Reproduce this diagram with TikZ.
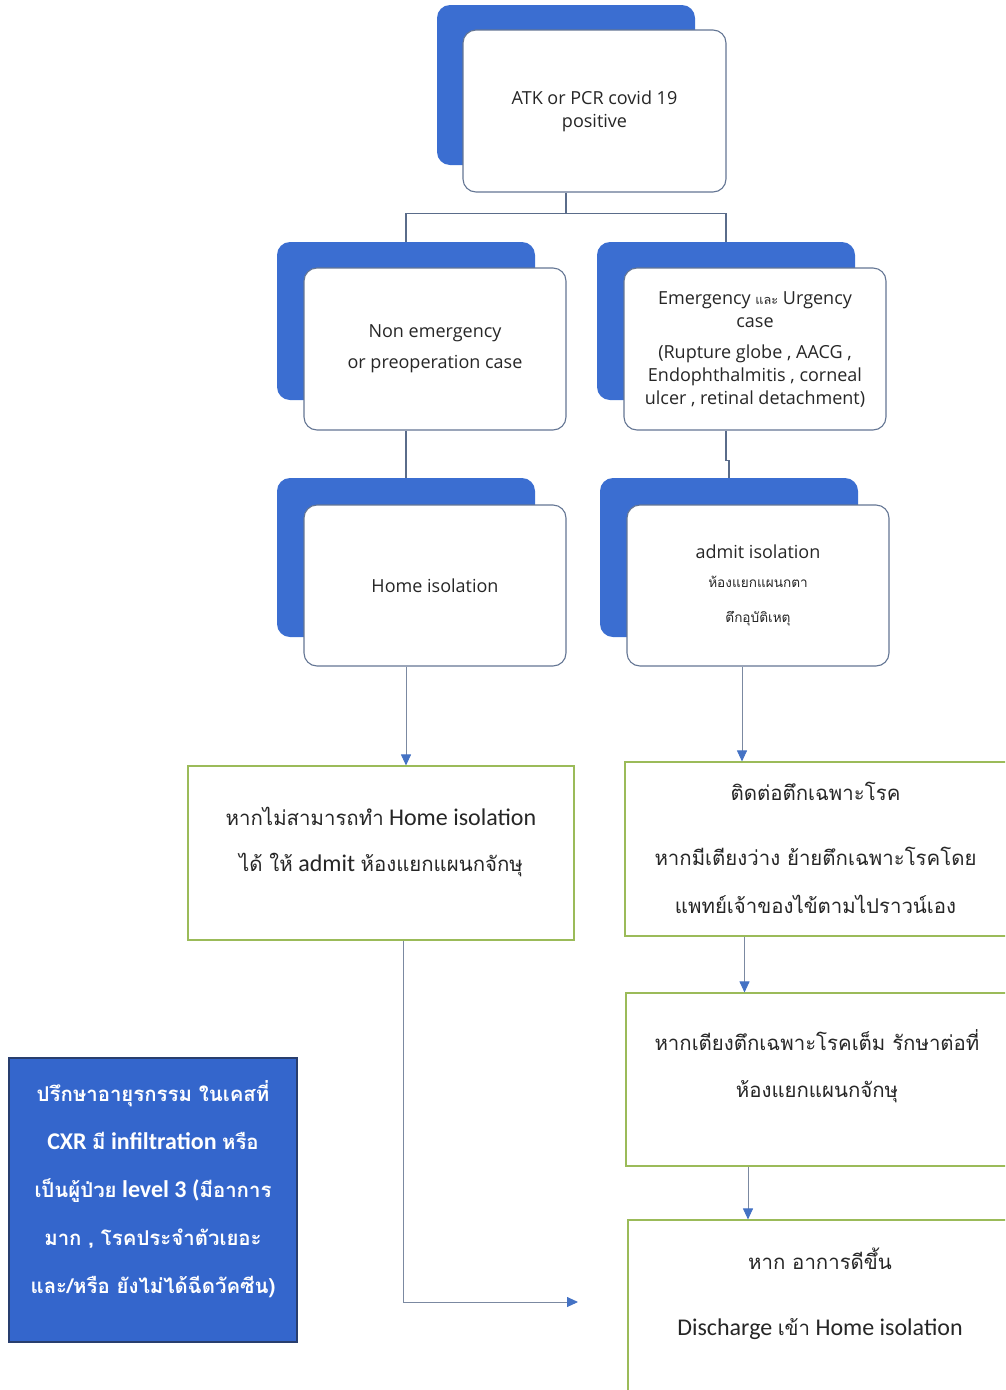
\documentclass[tikz,border=0pt]{standalone}
\usepackage{fontspec}
\setmainfont{Carlito}
\newfontfamily\cardfont{Open Sans}
\newfontfamily\thai[Script=Thai, Scale=0.85]{Loma}
\usetikzlibrary{arrows.meta}
\definecolor{backblue}{RGB}{59,110,209}
\definecolor{notefill}{RGB}{52,102,204}
\definecolor{noteedge}{RGB}{40,62,110}
\definecolor{cardedge}{RGB}{100,118,148}
\definecolor{greenedge}{RGB}{155,187,89}
\definecolor{connline}{RGB}{90,108,138}
\definecolor{arrowblue}{RGB}{68,114,196}
\definecolor{txt}{RGB}{38,38,38}
\tikzset{
  backcard/.style={draw=none, fill=backblue, rounded corners=13pt, inner sep=0pt},
  frontcard/.style={draw=cardedge, line width=1.1pt, fill=white, rounded corners=13pt, inner sep=0pt, align=center, text=txt, font=\cardfont\fontsize{18}{23}\selectfont},
  greenbox/.style={draw=greenedge, line width=1.1pt, fill=white, inner sep=0pt},
  gtext/.style={align=center, text=txt, inner sep=0pt, anchor=north, font=\fontsize{24}{46}\selectfont},
  notebox/.style={draw=noteedge, line width=1.2pt, fill=notefill, inner sep=0pt},
  notetext/.style={align=center, text=white, inner sep=0pt, font=\bfseries\fontsize{24}{48}\selectfont},
  conn/.style={draw=connline, line width=1.3pt},
  arr/.style={draw=connline!80, line width=0.9pt, -{Triangle[length=11pt, width=10pt, color=arrowblue]}},
}
\begin{document}
\begin{tikzpicture}[x=1pt,y=-1pt]
\useasboundingbox (0,0) rectangle (1005,1390);
\clip (0,0) rectangle (1005,1390);
% --- double cards: back (blue) then front (white)
\node[backcard, minimum width=258pt, minimum height=160pt] (topb) at (566,85) {};
\node[frontcard, minimum width=263pt, minimum height=162pt] (top) at (594.5,111) {ATK or PCR covid 19\\positive};

\node[backcard, minimum width=258pt, minimum height=158pt] (nonb) at (406,321) {};
\node[backcard, minimum width=258pt, minimum height=158pt] (emb) at (726,321) {};
\node[backcard, minimum width=258pt, minimum height=159pt] (homeb) at (406,557.5) {};
\node[backcard, minimum width=258pt, minimum height=159pt] (admb) at (729,557.5) {};

% --- connectors between cards
\coordinate (split) at ([yshift=-21pt]top.south -| topb.south);
\draw[conn] (top.south -| topb.south) -- (split);
\draw[conn] (nonb.north) |- (split) -| (emb.north);

\node[frontcard, minimum width=262pt, minimum height=162pt] (non) at (435,349)
  {Non emergency\\[8pt]or preoperation case};
\node[frontcard, minimum width=262pt, minimum height=162pt] (em) at (755,349)
  {Emergency {\thai\fontsize{15}{16}\selectfont และ} Urgency\\case\\[8pt](Rupture globe , AACG ,\\Endophthalmitis , corneal\\ulcer , retinal detachment)};

\draw[conn] (non.south -| homeb.north) -- (homeb.north);
\draw[conn] (em.south -| emb.north) -- ++(0,30) -| (admb.north);

\node[frontcard, minimum width=262pt, minimum height=161pt] (home) at (435,585.5) {Home isolation};
\node[frontcard, minimum width=262pt, minimum height=161pt] (adm) at (758,585.5)
  {admit isolation\\[6pt]{\thai\fontsize{16}{17}\selectfont ห้องแยกแผนกตา}\\[12pt]{\thai\fontsize{16}{17}\selectfont ตึกอุบัติเหตุ}};

% --- green boxes
\node[greenbox, minimum width=386pt, minimum height=174pt] (g1) at (381,853) {};
\node[gtext] (g1t) at ([yshift=-42pt]g1.north)
  {{\thai หากไม่สามารถทำ} Home isolation\\{\thai ได้ ให้} admit {\thai ห้องแยกแผนกจักษุ}};

\node[greenbox, minimum width=385pt, minimum height=174pt] (g2) at (817.5,849) {};
\node[gtext] (g2t) at ([xshift=-2pt, yshift=-20pt]g2.north)
  {{\thai ติดต่อตึกเฉพาะโรค}\\[19pt]{\thai หากมีเตียงว่าง ย้ายตึกเฉพาะโรคโดย}\\[2pt]{\thai แพทย์เจ้าของไข้ตามไปราวน์เอง}};

\node[greenbox, minimum width=382pt, minimum height=173pt] (g3) at (817,1079.5) {};
\node[gtext] (g3t) at ([yshift=-37pt]g3.north)
  {{\thai หากเตียงตึกเฉพาะโรคเต็ม รักษาต่อที่}\\[1pt]{\thai ห้องแยกแผนกจักษุ}};

\node[greenbox, minimum width=380pt, minimum height=175pt] (g4) at (818,1307.5) {};
\node[gtext] (g4t) at ([xshift=2pt, yshift=-28pt]g4.north)
  {{\thai หาก อาการดีขึ้น}\\[20pt]Discharge {\thai เข้า} Home isolation};

% --- note box
\node[notebox, minimum width=288pt, minimum height=284pt] (note) at (153,1200) {};
\node[notetext] (notet) at ([yshift=11pt]note.center)
  {{\thai ปรึกษาอายุรกรรม ในเคสที่}\\CXR {\thai มี} infiltration {\thai หรือ}\\{\thai เป็นผู้ป่วย} level 3 ({\thai มีอาการ}\\{\thai มาก , โรคประจำตัวเยอะ}\\{\thai และ/หรือ ยังไม่ได้ฉีดวัคซีน)}};

% --- arrows
\coordinate (endpt) at (578,1302);
\draw[arr] (home.south -| homeb.north) -- (g1.north -| homeb.north);
\draw[arr] ([xshift=-16pt]adm.south) -- ([xshift=-16pt]adm.south |- g2.north);
\draw[arr] ([xshift=-73pt]g2.south) -- ([xshift=-73pt]g2.south |- g3.north);
\draw[arr] ([xshift=-69pt]g3.south) -- ([xshift=-69pt]g3.south |- g4.north);
\draw[arr] ([xshift=22pt]g1.south) |- (endpt);
\end{tikzpicture}
\end{document}
